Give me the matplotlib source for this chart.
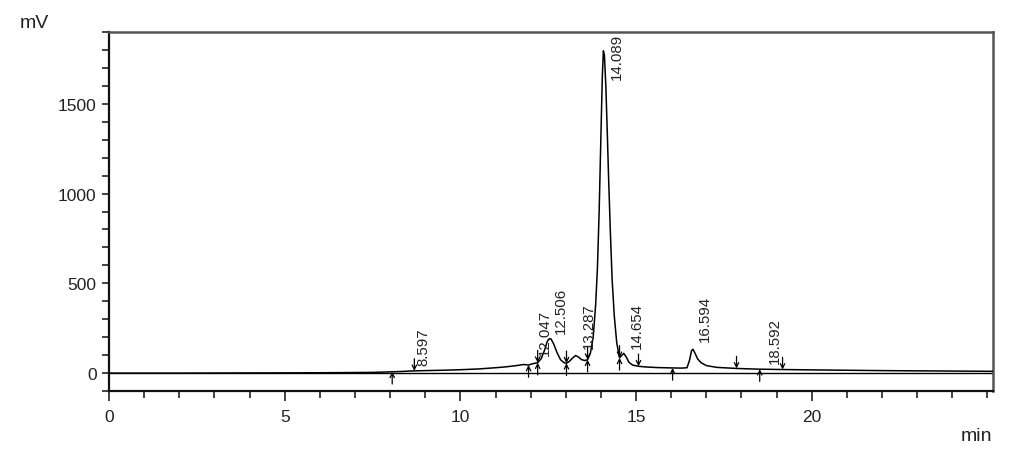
import numpy as np
import matplotlib
matplotlib.use("Agg")
import matplotlib.pyplot as plt

# ---------------- data ----------------
time_min = [0, 2, 4, 6, 7.5, 8.0, 8.3, 8.6, 9.0, 9.5, 10.0, 10.5, 11.0, 11.3, 11.6,
            11.8, 11.94, 12.05, 12.12, 12.2, 12.3, 12.4, 12.47, 12.53, 12.58, 12.65,
            12.75, 12.85, 12.95, 13.02, 13.1, 13.2, 13.28, 13.36, 13.45, 13.55, 13.62,
            13.7, 13.78, 13.85, 13.9, 13.95, 14.0, 14.04, 14.07, 14.1, 14.14, 14.18,
            14.22, 14.27, 14.32, 14.38, 14.45, 14.53, 14.6, 14.65, 14.72, 14.8, 14.9,
            15.07, 15.3, 15.6, 16.0, 16.3, 16.45, 16.52, 16.58, 16.62, 16.68, 16.75,
            16.85, 17.0, 17.3, 17.86, 18.5, 19.17, 20, 22, 25.2]
signal_mv = [0, 0, 1, 2, 4, 7, 9, 12, 14, 16, 19, 23, 30, 35, 42,
             48, 45, 52, 55, 58, 80, 130, 175, 192, 190, 165,
             115, 75, 58, 55, 65, 85, 98, 90, 75, 70, 75,
             110, 200, 380, 580, 900, 1320, 1650, 1795, 1770, 1600, 1350,
             1080, 780, 520, 320, 170, 85, 100, 110, 90, 60, 45,
             38, 34, 31, 29, 28, 30, 70, 125, 133, 110, 80,
             58, 42, 32, 26, 22, 20, 18, 14, 10]

peak_labels = ["8.597", "12.047", "12.506", "13.287", "14.089", "14.654", "16.594", "18.592"]
peak_times = [8.597, 12.047, 12.506, 13.287, 14.089, 14.654, 16.594, 18.592]

up_arrow_times = [8.06, 11.94, 12.2, 13.02, 13.62, 14.53, 16.04, 18.52]
down_arrow_times = [8.69, 12.2, 13.02, 13.62, 14.53, 15.07, 17.86, 19.17]

x_major = [0, 5, 10, 15, 20]
y_major = [0, 500, 1000, 1500]

# ---------------- layout ----------------
label_x_offset = 0.36
label_bottoms = [44, 100, 222, 139, 1640, 139, 178, 55]
arrow_len = 68

plt.rcParams['font.family'] = ['Liberation Sans', 'DejaVu Sans']

fig = plt.figure(figsize=(10.15, 4.64), dpi=100)
ax = fig.add_axes([0.1074, 0.155, 0.8706, 0.774])

ax.plot(time_min, signal_mv, color='black', lw=1.1, zorder=3)
ax.axhline(0, color='black', lw=1.0, zorder=2)

ax.set_xlim(0, 25.15)
ax.set_ylim(-100, 1900)

for lab, rt, yb in zip(peak_labels, peak_times, label_bottoms):
    ax.text(rt + label_x_offset, yb, lab, rotation=90, ha='center', va='bottom',
            fontsize=10.8, color='#222222')

for t in up_arrow_times:
    yv = np.interp(t, time_min, signal_mv)
    ax.annotate('', xy=(t, yv), xytext=(t, yv - arrow_len),
                arrowprops=dict(arrowstyle='->', lw=0.9, color='black',
                                mutation_scale=8, shrinkA=0, shrinkB=0), zorder=4)
for t in down_arrow_times:
    yv = np.interp(t, time_min, signal_mv)
    ax.annotate('', xy=(t, yv), xytext=(t, yv + arrow_len),
                arrowprops=dict(arrowstyle='->', lw=0.9, color='black',
                                mutation_scale=8, shrinkA=0, shrinkB=0), zorder=4)

ax.set_xticks(x_major)
ax.set_xticks(np.arange(0, 26, 1), minor=True)
ax.set_yticks(y_major)
ax.set_yticks(np.arange(-100, 1901, 100), minor=True)
ax.tick_params(axis='both', which='both', direction='out', color='#222222',
               labelsize=12.5, labelcolor='#222222', width=1.2)
ax.tick_params(axis='x', which='major', length=7, pad=6)
ax.tick_params(axis='x', which='minor', length=5)
ax.tick_params(axis='y', which='both', length=5, pad=4)

for side in ['left', 'bottom']:
    ax.spines[side].set_color('#111111')
    ax.spines[side].set_linewidth(1.6)
for side in ['top', 'right']:
    ax.spines[side].set_color('#555555')
    ax.spines[side].set_linewidth(1.8)

fig.text(20 / 1015, 1 - 24 / 464, 'mV', fontsize=14, ha='left', va='center', color='#222222')
fig.text(992 / 1015, 1 - 437 / 464, 'min', fontsize=14, ha='right', va='center', color='#222222')

fig.savefig('out.png', dpi=100)
